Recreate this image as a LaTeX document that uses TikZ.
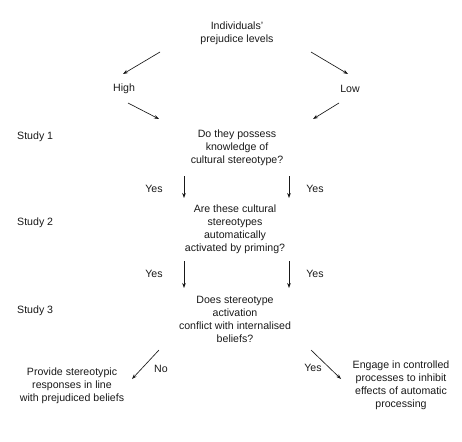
\documentclass[tikz,border=0pt]{standalone}
\usepackage{fontspec}
\setmainfont{Liberation Sans}
\usetikzlibrary{arrows.meta}
\begin{document}
\begin{tikzpicture}[x=1pt,y=-1pt,
  txt/.style={font=\fontsize{10.6}{13}\selectfont, align=center, inner sep=0pt, text=black!90},
  study/.style={font=\fontsize{10.6}{13}\selectfont, anchor=west, inner sep=0pt, text=black!90},
  arr/.style={line width=0.65pt, -{Stealth[length=5pt,width=3.6pt]}, black!90}]
\useasboundingbox (0,0) rectangle (462,441);
\node[txt] (top) at (237,33) {Individuals'\\prejudice levels};
\node[txt] (high) at (124,89) {High};
\node[txt] (low) at (350,89) {Low};
\node[txt] (q1) at (237,148) {Do they possess\\knowledge of\\cultural stereotype?};
\node[txt] (q2) at (235,229.5) {Are these cultural\\stereotypes\\automatically\\activated by priming?};
\node[txt] (q3) at (235,319) {Does stereotype\\activation\\conflict with internalised\\beliefs?};
\node[txt] (res1) at (72,386) {Provide stereotypic\\responses in line\\with prejudiced beliefs};
\node[txt] (res2) at (401,385.5) {Engage in controlled\\processes to inhibit\\effects of automatic\\processing};
\node[study] (s1) at (17,137) {Study 1};
\node[study] (s2) at (17,223) {Study 2};
\node[study] (s3) at (17,311) {Study 3};
\node[txt] (y1l) at (154,189) {Yes};
\node[txt] (y1r) at (315,189) {Yes};
\node[txt] (y2l) at (154,274) {Yes};
\node[txt] (y2r) at (315,274) {Yes};
\node[txt] (no) at (161,369) {No};
\node[txt] (y3) at (313,368) {Yes};
% arrow end points
\coordinate (a1s) at (160,52); \coordinate (a1e) at (123,74);
\coordinate (a2s) at (311,52); \coordinate (a2e) at (348,74);
\coordinate (a3s) at (128,103); \coordinate (a3e) at (159,119);
\coordinate (a4s) at (339,103); \coordinate (a4e) at (313,119);
\coordinate (a5s) at (184,176); \coordinate (a5e) at (184,198);
\coordinate (a6s) at (289,176); \coordinate (a6e) at (289,198);
\coordinate (a7s) at (184,261); \coordinate (a7e) at (184,288);
\coordinate (a8s) at (289,261); \coordinate (a8e) at (289,288);
\coordinate (a9s) at (159,350); \coordinate (a9e) at (132,379);
\coordinate (a10s) at (311,350); \coordinate (a10e) at (341,379);
\draw[arr] (a1s) -- (a1e);
\draw[arr] (a2s) -- (a2e);
\draw[arr] (a3s) -- (a3e);
\draw[arr] (a4s) -- (a4e);
\draw[arr] (a5s) -- (a5e);
\draw[arr] (a6s) -- (a6e);
\draw[arr] (a7s) -- (a7e);
\draw[arr] (a8s) -- (a8e);
\draw[arr] (a9s) -- (a9e);
\draw[arr] (a10s) -- (a10e);
\end{tikzpicture}
\end{document}
